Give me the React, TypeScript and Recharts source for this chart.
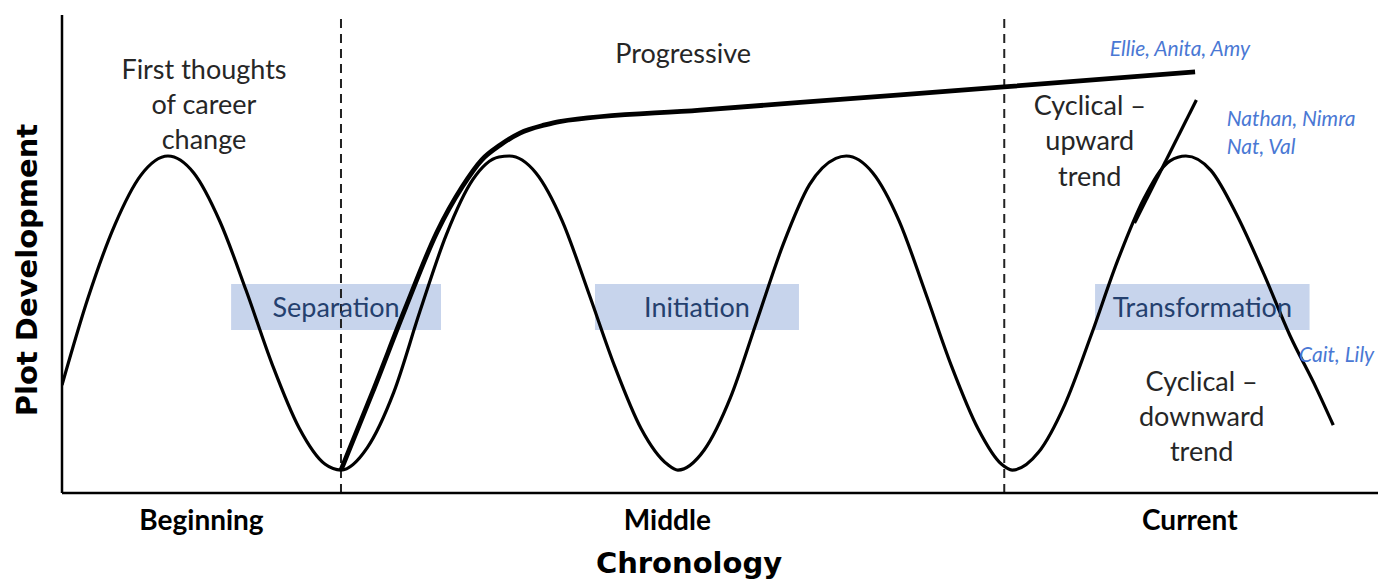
import React from "react";
import {
  ComposedChart,
  Line,
  XAxis,
  YAxis,
  ReferenceLine,
  ReferenceArea,
  ReferenceDot,
} from "recharts";

// x = chronology (0-100), y = plot development (0-100)
const WAVE_X = [
  0, 2, 4, 6, 8.05, 10, 12, 14, 16, 18, 20, 21.2,
  23.2, 25.2, 27.2, 29.2, 31.2, 33.2, 34.0,
  36, 38, 40, 42, 44, 46, 46.8,
  48.8, 50.8, 52.8, 54.8, 56.8, 58.8, 59.6,
  61.6, 63.6, 65.6, 67.6, 69.6, 71.4, 72.2,
  74.2, 76.2, 78.2, 80.2, 82.2, 84.2, 85.4,
  87.3, 89.3, 91.3, 93.3, 95.3, 96.6,
];
const WAVE_Y = [
  22.6, 41, 56, 66.5, 70.5, 67, 56.8, 42.3, 26.7, 13.7, 6, 4.8,
  9.5, 21, 38, 54, 65.5, 70.3, 70.5,
  67, 57, 42, 26.5, 13.5, 6, 4.8,
  9, 20, 36, 52, 64.5, 70, 70.5,
  67, 57, 42, 26.5, 13.5, 6, 4.8,
  8.5, 18.5, 33, 48.5, 61.5, 69.5, 70.5,
  67.5, 58, 46, 33, 22, 14.2,
];

const PROG_X = [21.2, 23.6, 26.1, 28.5, 30.4, 31.9, 33.3, 34.8, 36.7, 37.8, 48.5, 59.9, 71.3, 86.1];
const PROG_Y = [4.8, 21.1, 38.7, 54.6, 64.0, 69.7, 72.8, 75.3, 77.0, 77.7, 80.1, 82.5, 84.9, 88.1];

const UP_X = [81.5, 86.2];
const UP_Y = [56.5, 82.2];

const PHASE_BOUNDS = [21.2, 71.6];

const TICK_POS = [10.6, 46.0, 85.7];
const TICK_LABELS = ["Beginning", "Middle", "Current"];

const STAGES = ["Separation", "Initiation", "Transformation"];
const STAGE_X1 = [12.85, 40.5, 78.5];
const STAGE_X2 = [28.8, 56.0, 94.8];
const STAGE_Y = [34.1, 43.7];

const wave = WAVE_X.map((x, i) => ({ x, y: WAVE_Y[i] }));
const progressive = PROG_X.map((x, i) => ({ x, y: PROG_Y[i] }));
const upward = UP_X.map((x, i) => ({ x, y: UP_Y[i] }));

const BODY_FONT = "Lato, 'Open Sans', sans-serif";
const TITLE_FONT = "'DejaVu Sans', Verdana, sans-serif";

function Note(props: any) {
  const { viewBox, lines, color = "#262626", size = 27, italic = false, lh = 35, anchor = "middle" } = props;
  if (!viewBox) return null;
  return (
    <text
      x={viewBox.x}
      y={viewBox.y}
      fill={color}
      fontSize={size}
      fontFamily={BODY_FONT}
      fontStyle={italic ? "italic" : "normal"}
      textAnchor={anchor}
      dominantBaseline="central"
    >
      {lines.map((l: string, i: number) => (
        <tspan key={i} x={viewBox.x} y={viewBox.y + i * lh}>
          {l}
        </tspan>
      ))}
    </text>
  );
}

function AxisTitle(props: any) {
  const { viewBox, title, shiftX = 0, shiftY = 0, rot = 0 } = props;
  if (!viewBox) return null;
  const cx = viewBox.x + viewBox.width / 2 + shiftX;
  const cy = viewBox.y + viewBox.height / 2 + shiftY;
  return (
    <text
      x={cx}
      y={cy}
      textAnchor="middle"
      dominantBaseline="central"
      fontFamily={TITLE_FONT}
      fontWeight="bold"
      fontSize={29}
      fill="#000"
      transform={rot ? `rotate(${rot}, ${cx}, ${cy})` : undefined}
    >
      {title}
    </text>
  );
}

export default function App() {
  return (
    <div style={{ position: "absolute", left: 0, top: 0, background: "#fff" }}>
      <ComposedChart width={1378} height={581} margin={{ top: 15, right: 0, bottom: 0, left: 0 }}>
        <XAxis
          type="number"
          dataKey="x"
          domain={[0, 100]}
          ticks={TICK_POS}
          tickFormatter={(v: number) => TICK_LABELS[TICK_POS.indexOf(v)] ?? ""}
          tickLine={false}
          tickSize={0}
          tickMargin={17}
          height={88}
          axisLine={{ stroke: "#000", strokeWidth: 2.5 }}
          tick={{ fill: "#000", fontSize: 28, fontWeight: "bold", fontFamily: BODY_FONT }}
          allowDataOverflow
          label={<AxisTitle title="Chronology" shiftX={-31} shiftY={26} />}
        />
        <YAxis
          type="number"
          domain={[0, 100]}
          width={62}
          tick={false}
          tickLine={false}
          axisLine={{ stroke: "#000", strokeWidth: 2.5 }}
          allowDataOverflow
          label={<AxisTitle title="Plot Development" rot={-90} shiftX={-4} shiftY={16} />}
        />

        {STAGES.map((s, i) => (
          <ReferenceArea
            key={s}
            x1={STAGE_X1[i]}
            x2={STAGE_X2[i]}
            y1={STAGE_Y[0]}
            y2={STAGE_Y[1]}
            fill="#c7d4ec"
            fillOpacity={1}
            stroke="none"
            label={{
              value: s,
              position: "center",
              fill: "#24406e",
              fontSize: 27,
              fontFamily: BODY_FONT,
            }}
          />
        ))}

        {PHASE_BOUNDS.map((x) => (
          <ReferenceLine key={x} x={x} stroke="#222" strokeWidth={2} strokeDasharray="9 6" />
        ))}

        <Line
          data={wave}
          dataKey="y"
          type="monotone"
          stroke="#000"
          strokeWidth={3.2}
          dot={false}
          activeDot={false}
          isAnimationActive={false}
        />
        <Line
          data={progressive}
          dataKey="y"
          type="monotone"
          stroke="#000"
          strokeWidth={4.8}
          dot={false}
          activeDot={false}
          isAnimationActive={false}
        />
        <Line
          data={upward}
          dataKey="y"
          type="linear"
          stroke="#000"
          strokeWidth={3.2}
          dot={false}
          activeDot={false}
          isAnimationActive={false}
        />

        <ReferenceDot x={10.79} y={88.9} r={0} stroke="none" label={<Note lines={["First thoughts", "of career", "change"]} />} />
        <ReferenceDot x={47.2} y={92.3} r={0} stroke="none" label={<Note lines={["Progressive"]} />} />
        <ReferenceDot x={78.1} y={81.4} r={0} stroke="none" label={<Note lines={["Cyclical –", "upward", "trend"]} lh={35.5} />} />
        <ReferenceDot x={86.6} y={23.6} r={0} stroke="none" label={<Note lines={["Cyclical –", "downward", "trend"]} lh={35} />} />
        <ReferenceDot x={84.95} y={93.3} r={0} stroke="none" label={<Note lines={["Ellie, Anita, Amy"]} color="#4a78d4" size={21} italic />} />
        <ReferenceDot x={88.5} y={78.7} r={0} stroke="none" label={<Note lines={["Nathan, Nimra", "Nat, Val"]} color="#4a78d4" size={21} italic lh={28} anchor="start" />} />
        <ReferenceDot x={94.0} y={29.3} r={0} stroke="none" label={<Note lines={["Cait, Lily"]} color="#4a78d4" size={21} italic anchor="start" />} />
      </ComposedChart>
    </div>
  );
}
